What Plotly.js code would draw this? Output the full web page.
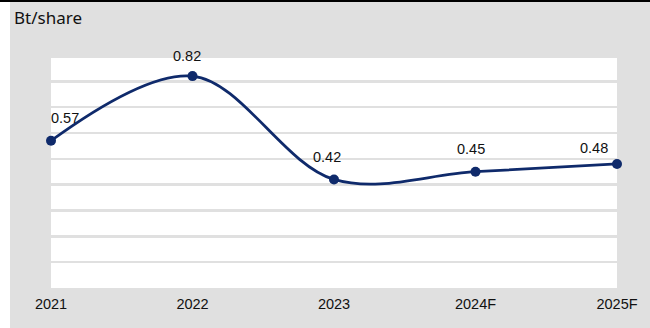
<!DOCTYPE html>
<html>
<head>
<meta charset="utf-8">
<script src="https://cdn.plot.ly/plotly-3.0.1.min.js"></script>
<style>
  html, body { margin: 0; padding: 0; background: #ffffff; }
  #wrap { position: absolute; left: 0; top: 0; width: 650px; height: 328px; background: #ffffff; }
  #bar { position: absolute; left: 0; top: 0; width: 650px; height: 2px; background: #000000; }
  #chart { position: absolute; left: 10px; top: 2px; width: 640px; height: 326px; }
</style>
</head>
<body>
<div id="wrap"><div id="bar"></div><div id="chart"></div></div>
<script>
const years = ["2021", "2022", "2023", "2024F", "2025F"];
const dps = [0.57, 0.82, 0.42, 0.45, 0.48];
const labels = ["0.57", "0.82", "0.42", "0.45", "0.48"];
const unitTitle = "Bt/share";

// label pixel offsets (style only)
const labelDx = [14, -6, -7, -5, -23];
const labelDy = [23, 20, 22, 23, 16];

const trace = {
  x: years,
  y: dps,
  type: "scatter",
  mode: "lines+markers",
  line: { color: "#0f2a6b", width: 2.8, shape: "spline", smoothing: 1 },
  marker: { color: "#0f2a6b", size: 10 },
  hoverinfo: "skip",
  cliponaxis: false
};

const annotations = years.map((yr, i) => ({
  x: i, y: dps[i], xref: "x", yref: "y",
  text: labels[i], showarrow: false,
  xanchor: "center", yanchor: "middle",
  xshift: labelDx[i], yshift: labelDy[i],
  font: { family: "Liberation Sans, Arial, sans-serif", size: 14.5, color: "#111111" }
}));

const layout = {
  width: 640, height: 326,
  margin: { l: 41, r: 33, t: 56, b: 40 },
  paper_bgcolor: "#e0e0e0",
  plot_bgcolor: "#ffffff",
  showlegend: false,
  title: {
    text: unitTitle,
    xref: "container", yref: "container",
    x: 4 / 640, xanchor: "left",
    y: 1 - 16 / 326, yanchor: "middle",
    font: { family: "Noto Sans, sans-serif", size: 17, color: "#111111" }
  },
  xaxis: {
    type: "category",
    range: [0, 4],
    showgrid: false, zeroline: false, showline: false,
    ticks: "",
    ticklabelstandoff: 5,
    tickfont: { family: "Liberation Sans, Arial, sans-serif", size: 14.5, color: "#111111" },
    fixedrange: true
  },
  yaxis: {
    range: [0, 0.89],
    dtick: 0.1, tick0: 0,
    showgrid: true, gridcolor: "#e0e0e0", gridwidth: 2.5,
    zeroline: false, showline: false,
    showticklabels: false, ticks: "",
    fixedrange: true
  },
  annotations: annotations
};

Plotly.newPlot("chart", [trace], layout, { staticPlot: true, displayModeBar: false });
</script>
</body>
</html>
